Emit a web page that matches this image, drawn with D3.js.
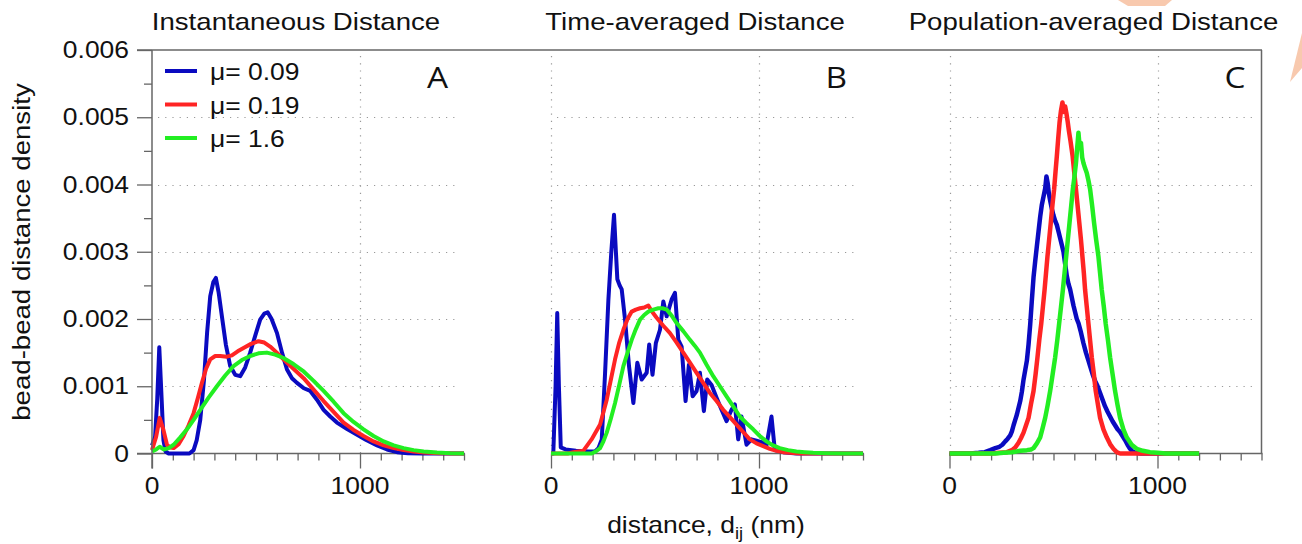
<!DOCTYPE html>
<html>
<head>
<meta charset="utf-8">
<script src="https://cdn.jsdelivr.net/npm/d3@7"></script>
<style>
  body{margin:0;background:#fff;}
  text{font-family:"Liberation Sans",Arial,sans-serif;fill:#111;}
  .letter{font-family:"Open Sans",sans-serif;}
</style>
</head>
<body>
<script>
// densities are given in units of 0.001, distances in nm
var instBlue = [[0,0.12],[15,0.25],[25,0.8],[35,1.58],[45,0.9],[55,0.2],[65,0.03],[80,0],[180,0],[200,0.05],[215,0.2],[232,0.5],[250,1.1],[265,1.8],[280,2.34],[295,2.55],[307,2.61],[320,2.40],[336,2.04],[355,1.62],[376,1.30],[400,1.17],[424,1.15],[448,1.28],[472,1.50],[496,1.75],[520,1.99],[540,2.08],[556,2.10],[575,2.00],[601,1.79],[625,1.50],[649,1.25],[673,1.12],[697,1.05],[730,0.97],[761,0.93],[793,0.80],[825,0.65],[857,0.55],[889,0.46],[940,0.36],[986,0.28],[1030,0.20],[1082,0.12],[1130,0.06],[1178,0.02],[1230,0.005],[1300,0],[1500,0]];
var instRed = [[0,0.05],[20,0.25],[37,0.53],[55,0.35],[72,0.13],[88,0.09],[104,0.08],[128,0.14],[152,0.26],[176,0.42],[200,0.60],[220,0.82],[240,1.05],[260,1.26],[280,1.40],[304,1.45],[328,1.45],[360,1.44],[384,1.46],[412,1.52],[440,1.57],[476,1.63],[512,1.67],[540,1.65],[568,1.59],[600,1.50],[632,1.40],[680,1.26],[729,1.12],[777,0.95],[825,0.78],[873,0.62],[921,0.46],[969,0.35],[1017,0.26],[1065,0.18],[1114,0.12],[1162,0.08],[1210,0.05],[1258,0.03],[1306,0.015],[1380,0.005],[1450,0],[1500,0]];
var instGreen = [[0,0.03],[20,0.06],[37,0.10],[56,0.06],[80,0.08],[104,0.13],[136,0.24],[168,0.36],[200,0.50],[232,0.65],[272,0.83],[312,1.00],[352,1.16],[392,1.30],[432,1.39],[472,1.45],[512,1.49],[552,1.50],[592,1.47],[632,1.42],[680,1.33],[729,1.22],[777,1.08],[825,0.93],[873,0.77],[921,0.60],[969,0.47],[1017,0.36],[1065,0.26],[1114,0.18],[1162,0.12],[1210,0.08],[1258,0.05],[1306,0.03],[1370,0.015],[1434,0.005],[1500,0]];

var timeBlue = [[0,0],[11,0],[22,1.0],[30,2.09],[38,1.0],[47,0.09],[70,0.06],[120,0.04],[180,0.03],[212,0.03],[228,0.08],[244,0.21],[260,1.2],[276,2.29],[290,3.0],[303,3.55],[312,3.0],[319,2.59],[330,2.50],[340,2.44],[356,1.99],[375,1.30],[396,0.75],[415,1.35],[436,1.10],[460,1.20],[472,1.62],[488,1.17],[504,1.64],[524,1.84],[540,2.26],[556,2.04],[580,2.29],[596,2.39],[612,1.69],[628,1.59],[647,0.78],[663,1.32],[681,0.85],[700,0.93],[716,1.20],[735,0.63],[751,1.10],[772,1.02],[796,0.83],[820,0.65],[844,0.48],[868,0.65],[884,0.73],[900,0.21],[916,0.55],[940,0.13],[964,0.21],[988,0.19],[1012,0.17],[1036,0.12],[1060,0.55],[1076,0.05],[1116,0.02],[1180,0],[1500,0]];
var timeRed = [[0,0],[80,0],[107,0.02],[155,0.04],[195,0.21],[236,0.43],[268,0.80],[288,1.10],[308,1.40],[328,1.65],[348,1.84],[368,2.00],[388,2.11],[408,2.14],[428,2.16],[448,2.17],[468,2.20],[476,2.16],[488,2.10],[508,2.02],[540,1.90],[572,1.79],[604,1.65],[636,1.50],[668,1.35],[700,1.20],[732,1.05],[764,0.90],[796,0.78],[828,0.65],[860,0.54],[892,0.43],[924,0.32],[956,0.21],[988,0.15],[1020,0.11],[1052,0.07],[1084,0.04],[1116,0.02],[1148,0.01],[1200,0],[1500,0]];
var timeGreen = [[0,0],[195,0],[215,0.03],[236,0.08],[252,0.18],[268,0.31],[288,0.52],[308,0.75],[328,1.02],[348,1.30],[368,1.50],[388,1.69],[408,1.85],[428,1.99],[448,2.06],[468,2.11],[492,2.14],[516,2.16],[536,2.16],[556,2.14],[580,2.05],[604,1.94],[636,1.82],[668,1.69],[692,1.60],[716,1.50],[748,1.32],[780,1.15],[812,1.00],[844,0.85],[876,0.70],[908,0.55],[940,0.45],[972,0.36],[1004,0.26],[1036,0.18],[1068,0.12],[1100,0.08],[1140,0.05],[1180,0.03],[1220,0.02],[1260,0.01],[1320,0.005],[1400,0],[1500,0]];

var popBlue = [[0,0],[100,0],[140,0.01],[170,0.02],[196,0.05],[220,0.08],[240,0.10],[254,0.13],[268,0.18],[280,0.22],[292,0.27],[300,0.33],[308,0.42],[316,0.50],[324,0.58],[332,0.68],[340,0.78],[348,0.92],[356,1.10],[364,1.24],[372,1.38],[380,1.62],[388,1.92],[396,2.28],[404,2.62],[412,2.86],[420,3.08],[428,3.30],[436,3.52],[444,3.70],[452,3.82],[460,3.94],[466,4.12],[472,4.02],[478,3.86],[484,3.76],[492,3.64],[500,3.54],[508,3.46],[516,3.40],[524,3.30],[532,3.20],[540,3.10],[548,3.00],[556,2.82],[564,2.64],[572,2.52],[580,2.44],[588,2.32],[596,2.20],[604,2.10],[612,2.00],[620,1.94],[632,1.80],[644,1.64],[656,1.50],[668,1.38],[676,1.30],[688,1.18],[700,1.08],[712,1.00],[724,0.90],[736,0.80],[748,0.70],[760,0.62],[772,0.55],[784,0.48],[796,0.42],[808,0.36],[820,0.32],[832,0.26],[844,0.20],[856,0.13],[868,0.07],[880,0.03],[896,0.01],[920,0],[1200,0]];
var popRed = [[0,0],[200,0],[240,0.01],[276,0.02],[300,0.05],[316,0.09],[332,0.16],[344,0.23],[356,0.31],[368,0.42],[380,0.53],[392,0.74],[404,0.93],[414,1.18],[423,1.43],[432,1.70],[441,1.93],[449,2.18],[457,2.43],[464,2.68],[471,2.93],[479,3.18],[487,3.43],[495,3.70],[503,3.93],[510,4.20],[516,4.42],[522,4.66],[529,4.92],[536,5.10],[543,5.22],[550,5.08],[556,5.16],[562,5.06],[568,4.94],[574,4.80],[582,4.64],[592,4.42],[600,4.17],[608,3.93],[616,3.68],[624,3.43],[632,3.18],[639,2.93],[646,2.68],[652,2.43],[660,2.18],[668,1.93],[676,1.68],[684,1.43],[694,1.18],[703,0.93],[714,0.72],[724,0.53],[740,0.36],[756,0.24],[772,0.14],[788,0.07],[804,0.02],[820,0],[1200,0]];
var popGreen = [[0,0],[220,0],[260,0.01],[300,0.02],[340,0.04],[372,0.05],[392,0.06],[404,0.08],[420,0.15],[436,0.24],[448,0.38],[460,0.53],[472,0.72],[484,0.93],[496,1.18],[508,1.43],[518,1.68],[527,1.93],[536,2.18],[545,2.43],[553,2.68],[561,2.93],[569,3.18],[577,3.43],[585,3.68],[593,3.93],[600,4.10],[608,4.32],[614,4.55],[620,4.77],[626,4.55],[632,4.62],[638,4.40],[644,4.32],[652,4.24],[660,4.17],[668,4.06],[676,3.93],[686,3.68],[695,3.43],[705,3.18],[716,2.93],[724,2.68],[732,2.43],[742,2.18],[751,1.93],[762,1.68],[772,1.43],[784,1.18],[796,0.93],[808,0.72],[820,0.53],[836,0.36],[852,0.24],[876,0.13],[900,0.07],[930,0.04],[964,0.02],[1000,0.01],[1040,0],[1200,0]];

var panelTitles = ["Instantaneous Distance", "Time-averaged Distance", "Population-averaged Distance"];
var panelLetters = ["A", "B", "C"];
var muLabels = ["\u03bc= 0.09", "\u03bc= 0.19", "\u03bc= 1.6"];
var seriesColors = ["#0a0ac0", "#ff2424", "#22ee22"];
var yTicks = [0, 0.001, 0.002, 0.003, 0.004, 0.005, 0.006];
var xTickLabels = [0, 1000];

var panelData = [
  [instBlue, instRed, instGreen],
  [timeBlue, timeRed, timeGreen],
  [popBlue, popRed, popGreen]
];

var width = 1302, height = 544;
var panelLeft = [152, 551, 949.5], panelW = 312;
var plotTop = 50, plotBottom = 453.5;
var sx = 1.15; // the original font runs wider than Arial

var svg = d3.select("body").append("svg")
  .attr("width", width).attr("height", height);

// faint watermark corners
svg.append("polygon").attr("points", "1118,0 1172,0 1165,6 1128,6").attr("fill", "#f8c9ae");
svg.append("polygon").attr("points", "1290,82 1302,33 1302,68").attr("fill", "#f8c9ae");

var y = d3.scaleLinear().domain([0, 0.006]).range([plotBottom, plotTop]);

function stext(g, x, yy, str, size, anchor, rot) {
  return g.append("text")
    .attr("transform", "translate(" + x + "," + yy + ") rotate(" + (rot || 0) + ") scale(" + sx + ",1)")
    .attr("text-anchor", anchor)
    .style("font-size", size + "px")
    .text(str);
}

var line = d3.line();

panelData.forEach(function(series, p) {
  var x0 = panelLeft[p];
  var x = d3.scaleLinear().domain([0, 1500]).range([x0, x0 + panelW]);
  var g = svg.append("g");

  // dotted grid
  g.selectAll(".hg").data(yTicks.slice(1, 6)).enter().append("line")
    .attr("x1", x0 + 6).attr("x2", x0 + panelW - 5)
    .attr("y1", function(d) { return Math.round(y(d)) + 0.5; })
    .attr("y2", function(d) { return Math.round(y(d)) + 0.5; })
    .attr("stroke", "#999").attr("stroke-width", 1.2).attr("stroke-dasharray", "1.2,6");
  g.selectAll(".vg").data(p === 0 ? [1000] : [0, 1000]).enter().append("line")
    .attr("x1", function(d) { return Math.round(x(d)) + 0.5; })
    .attr("x2", function(d) { return Math.round(x(d)) + 0.5; })
    .attr("y1", plotTop + 6).attr("y2", plotBottom)
    .attr("stroke", "#999").attr("stroke-width", 1.2).attr("stroke-dasharray", "1.2,6");

  // x axis
  var xa = g.append("g").attr("transform", "translate(0," + plotBottom + ")")
    .call(d3.axisBottom(x).tickValues(d3.range(0, 1501, 100)).tickSize(7).tickFormat(""));
  xa.select(".domain").remove();
  xa.selectAll("line").attr("stroke", "#666").attr("stroke-width", 1.3)
    .attr("y2", function(d) { return d % 1000 === 0 ? 15 : 7; });
  g.append("line").attr("x1", p === 0 ? 137 : x0).attr("x2", x0 + panelW + 1)
    .attr("y1", plotBottom).attr("y2", plotBottom).attr("stroke", "#666").attr("stroke-width", 1.5);
  xTickLabels.forEach(function(v) {
    stext(g, x(v), 494, v, 23, "middle");
  });

  // curves
  series.forEach(function(s, i) {
    g.append("path")
      .attr("d", line.x(function(d) { return x(d[0]); }).y(function(d) { return y(d[1] / 1000); })(s))
      .attr("fill", "none")
      .attr("stroke", seriesColors[i])
      .attr("stroke-width", p === 2 ? 4.5 : 4)
      .attr("stroke-linejoin", "round");
  });

  // title and panel letter
  stext(svg, x0 + panelW / 2 - 12, 30, panelTitles[p], 24, "middle");
  svg.append("text").attr("class", "letter")
    .attr("transform", "translate(" + (x0 + panelW - 16) + ",88) scale(1.15,1)")
    .attr("text-anchor", "end").style("font-size", "29px")
    .text(panelLetters[p]);
});

// frame: top and right
svg.append("line").attr("x1", 137).attr("x2", panelLeft[2] + panelW + 0.5)
  .attr("y1", plotTop).attr("y2", plotTop).attr("stroke", "#666").attr("stroke-width", 1.5);
svg.append("line").attr("x1", panelLeft[2] + panelW).attr("x2", panelLeft[2] + panelW)
  .attr("y1", plotTop).attr("y2", plotBottom).attr("stroke", "#666").attr("stroke-width", 1.5);

// y axis on panel A
var ya = svg.append("g").attr("transform", "translate(" + panelLeft[0] + ",0)")
  .call(d3.axisLeft(y).tickValues(d3.range(0, 0.00601, 0.0005)).tickSize(15).tickFormat(""));
ya.select(".domain").remove();
ya.selectAll("line").attr("stroke", "#666").attr("stroke-width", 1.3)
  .attr("x2", function(d, i) { return i % 2 === 0 ? -15 : -8; });
svg.append("line").attr("x1", panelLeft[0]).attr("x2", panelLeft[0])
  .attr("y1", plotTop).attr("y2", plotBottom + 15).attr("stroke", "#666").attr("stroke-width", 1.5);
yTicks.forEach(function(v) {
  stext(svg, 129, y(v) + 8, v === 0 ? "0" : d3.format(".3f")(v), 23, "end");
});

// legend
muLabels.forEach(function(lab, i) {
  var ly = 71 + i * 33.5;
  svg.append("line").attr("x1", 165).attr("x2", 197).attr("y1", ly).attr("y2", ly)
    .attr("stroke", seriesColors[i]).attr("stroke-width", 4);
  stext(svg, 210, ly + 9, lab, 23, "start");
});

// axis titles
stext(svg, 30, 252, "bead-bead distance density", 24, "middle", -90);
var xl = svg.append("text")
  .attr("transform", "translate(706,533) scale(" + sx + ",1)")
  .attr("text-anchor", "middle").style("font-size", "23px");
xl.append("tspan").text("distance, d");
xl.append("tspan").attr("dy", 6).style("font-size", "16px").text("ij");
xl.append("tspan").attr("dy", -6).text(" (nm)");
</script>
</body>
</html>
